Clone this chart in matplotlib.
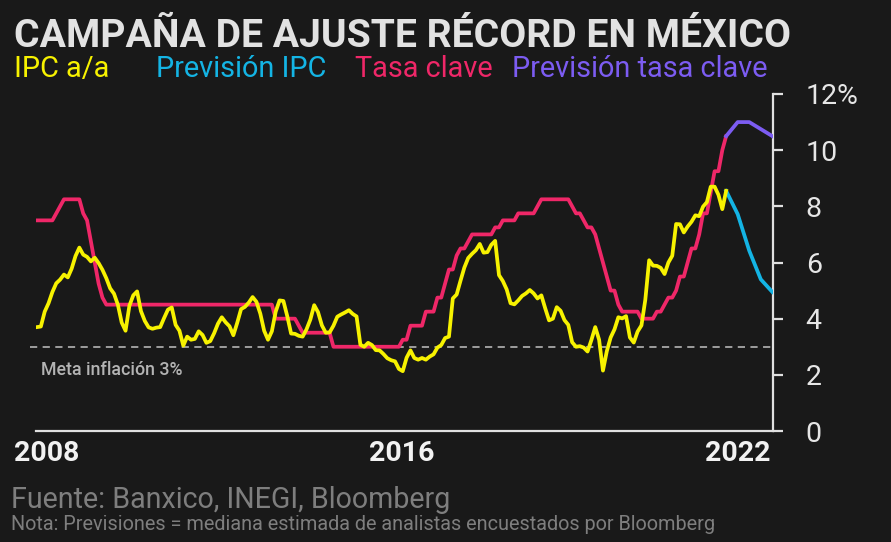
import numpy as np
import matplotlib
matplotlib.use("Agg")
import matplotlib.pyplot as plt

# ── Data (monthly, Jan 2008 – Dec 2022) ──
ipc_2008 = [3.70, 3.72, 4.25, 4.55, 4.95, 5.26, 5.39, 5.57, 5.47, 5.78, 6.23, 6.53]
ipc_2009 = [6.28, 6.20, 6.04, 6.17, 5.98, 5.74, 5.44, 5.08, 4.89, 4.50, 3.86, 3.57]
ipc_2010 = [4.46, 4.83, 4.97, 4.27, 3.92, 3.69, 3.64, 3.68, 3.70, 4.02, 4.32, 4.40]
ipc_2011 = [3.78, 3.57, 3.04, 3.36, 3.25, 3.28, 3.55, 3.42, 3.14, 3.20, 3.48, 3.82]
ipc_2012 = [4.05, 3.87, 3.73, 3.41, 3.85, 4.34, 4.42, 4.57, 4.77, 4.60, 4.18, 3.57]
ipc_2013 = [3.25, 3.55, 4.25, 4.65, 4.63, 4.09, 3.47, 3.46, 3.39, 3.36, 3.62, 3.97]
ipc_2014 = [4.48, 4.23, 3.76, 3.50, 3.51, 3.75, 4.07, 4.15, 4.22, 4.30, 4.17, 4.08]
ipc_2015 = [3.07, 3.00, 3.14, 3.06, 2.88, 2.87, 2.74, 2.59, 2.52, 2.48, 2.21, 2.13]
ipc_2016 = [2.61, 2.87, 2.60, 2.54, 2.60, 2.54, 2.65, 2.73, 2.97, 3.06, 3.31, 3.36]
ipc_2017 = [4.72, 4.86, 5.35, 5.82, 6.16, 6.31, 6.44, 6.66, 6.35, 6.37, 6.63, 6.77]
ipc_2018 = [5.55, 5.34, 5.04, 4.55, 4.51, 4.65, 4.81, 4.90, 5.02, 4.90, 4.72, 4.83]
ipc_2019 = [4.37, 3.94, 4.00, 4.41, 4.28, 3.95, 3.78, 3.16, 3.00, 3.02, 2.97, 2.83]
ipc_2020 = [3.24, 3.70, 3.25, 2.15, 2.84, 3.33, 3.62, 4.05, 4.01, 4.09, 3.33, 3.15]
ipc_2021 = [3.54, 3.76, 4.67, 6.08, 5.89, 5.88, 5.81, 5.59, 6.00, 6.24, 7.37, 7.36]
ipc_2022 = [7.07, 7.28, 7.45, 7.68, 7.65, 7.99, 8.15, 8.70, 8.70, 8.41, 7.90, 8.55]

rate_2008 = [7.50, 7.50, 7.50, 7.50, 7.50, 7.75, 8.00, 8.25, 8.25, 8.25, 8.25, 8.25]
rate_2009 = [7.75, 7.50, 6.75, 6.00, 5.25, 4.75, 4.50, 4.50, 4.50, 4.50, 4.50, 4.50]
rate_2010 = [4.50] * 12
rate_2011 = [4.50] * 12
rate_2012 = [4.50] * 12
rate_2013 = [4.50, 4.50, 4.00, 4.00, 4.00, 4.00, 4.00, 4.00, 3.75, 3.50, 3.50, 3.50]
rate_2014 = [3.50, 3.50, 3.50, 3.50, 3.50, 3.00, 3.00, 3.00, 3.00, 3.00, 3.00, 3.00]
rate_2015 = [3.00] * 11 + [3.25]
rate_2016 = [3.25, 3.75, 3.75, 3.75, 3.75, 4.25, 4.25, 4.25, 4.75, 4.75, 5.25, 5.75]
rate_2017 = [5.75, 6.25, 6.50, 6.50, 6.75, 7.00, 7.00, 7.00, 7.00, 7.00, 7.00, 7.25]
rate_2018 = [7.25, 7.50, 7.50, 7.50, 7.50, 7.75, 7.75, 7.75, 7.75, 7.75, 8.00, 8.25]
rate_2019 = [8.25, 8.25, 8.25, 8.25, 8.25, 8.25, 8.25, 8.00, 7.75, 7.75, 7.50, 7.25]
rate_2020 = [7.25, 7.00, 6.50, 6.00, 5.50, 5.00, 5.00, 4.50, 4.25, 4.25, 4.25, 4.25]
rate_2021 = [4.25, 4.00, 4.00, 4.00, 4.00, 4.25, 4.25, 4.50, 4.75, 4.75, 5.00, 5.50]
rate_2022 = [5.50, 6.00, 6.50, 6.50, 7.00, 7.75, 7.75, 8.50, 9.25, 9.25, 10.00, 10.50]

# quarterly forecasts: Dec 2022, Mar, Jun, Sep, Dec 2023 (months since Jan 2008)
fc_months = [179, 182, 185, 188, 191]
fc_ipc = [8.55, 7.72, 6.42, 5.40, 4.95]
fc_rate = [10.50, 11.00, 11.00, 10.75, 10.50]

META = 3.0
yticks = [0, 2, 4, 6, 8, 10, 12]
ytick_labels = ["0", "2", "4", "6", "8", "10", "12%"]

ipc = sum([ipc_2008, ipc_2009, ipc_2010, ipc_2011, ipc_2012, ipc_2013, ipc_2014,
           ipc_2015, ipc_2016, ipc_2017, ipc_2018, ipc_2019, ipc_2020, ipc_2021,
           ipc_2022], [])
rate = sum([rate_2008, rate_2009, rate_2010, rate_2011, rate_2012, rate_2013,
            rate_2014, rate_2015, rate_2016, rate_2017, rate_2018, rate_2019,
            rate_2020, rate_2021, rate_2022], [])
t = 2008 + np.arange(len(ipc)) / 12
t_fc = 2008 + np.array(fc_months) / 12

BG = "#191919"
YELLOW = "#f7f200"
CYAN = "#14b4e4"
PINK = "#ef2768"
PURPLE = "#7c5cf2"
AXIS = "#e0e0e0"
FONT = "Roboto"

W, H = 891, 542
fig = plt.figure(figsize=(W / 100, H / 100), dpi=100, facecolor=BG)
ax = fig.add_axes([36 / W, 1 - 431 / H, (773 - 36) / W, (431 - 94) / H])
ax.set_facecolor(BG)

lw = 2.7
ax.plot(t, rate, color=PINK, lw=lw, zorder=3)
ax.plot(t, ipc, color=YELLOW, lw=lw, zorder=4)
ax.plot(t_fc, fc_rate, color=PURPLE, lw=lw, zorder=3)
ax.plot(t_fc, fc_ipc, color=CYAN, lw=lw, zorder=3)

x0 = 2008 - 1 / 46.2
x1 = 2008 + 736 / 46.2
ax.set_xlim(x0, x1)
ax.set_ylim(0, 12)

# 3% inflation target
ax.plot([x0 - 0.13, x1], [META, META], color="#a8a8a8", lw=1.3,
        dashes=(4, 3), clip_on=False, zorder=2)
ax.text(2008.08, META - 0.5, "Meta inflación 3%", color="#b4b4b4",
        fontsize=12.8, fontfamily=FONT, fontweight="medium", va="top", ha="left")

for s in ["top", "left"]:
    ax.spines[s].set_visible(False)
for s in ["right", "bottom"]:
    ax.spines[s].set_color(AXIS)
    ax.spines[s].set_linewidth(1.6)

ax.yaxis.tick_right()
ax.set_yticks(yticks)
ax.set_yticklabels(ytick_labels)
ax.tick_params(axis="y", direction="out", length=7.5, width=1.6, color=AXIS,
               pad=16, labelsize=20.5, labelcolor="#e6e6e6")
for lab in ax.get_yticklabels():
    lab.set_fontfamily(FONT)
    lab.set_horizontalalignment("left")
ax.set_xticks([])

def ftext(x, y, s, **kw):
    fig.text(x / W, 1 - y / H, s, fontfamily=FONT, va="baseline", **kw)

ftext(14, 47, "CAMPAÑA DE AJUSTE RÉCORD EN MÉXICO", color="#e2e2e2",
      fontsize=28.2, fontweight="bold")
ftext(14, 77, "IPC a/a", color=YELLOW, fontsize=20.8)
ftext(156, 77, "Previsión IPC", color=CYAN, fontsize=20.8)
ftext(355, 77, "Tasa clave", color=PINK, fontsize=20.8)
ftext(512, 77, "Previsión tasa clave", color=PURPLE, fontsize=20.8)

ftext(14, 461, "2008", color="#f2f2f2", fontsize=20.5, fontweight="bold", ha="left")
ftext(402, 461, "2016", color="#f2f2f2", fontsize=20.5, fontweight="bold", ha="center")
ftext(771, 461, "2022", color="#f2f2f2", fontsize=20.5, fontweight="bold", ha="right")

ftext(11, 508, "Fuente: Banxico, INEGI, Bloomberg", color="#7e7e7e", fontsize=20.6)
ftext(11, 530, "Nota: Previsiones = mediana estimada de analistas encuestados por Bloomberg",
      color="#7e7e7e", fontsize=14.3)

fig.savefig("out.png", dpi=100, facecolor=BG)
